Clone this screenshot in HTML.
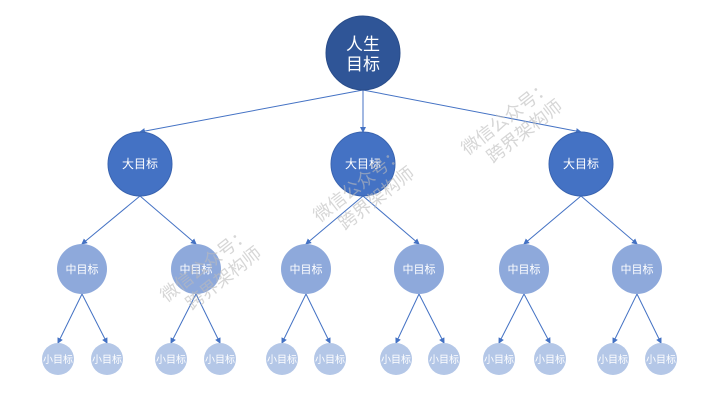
<!DOCTYPE html>
<html><head><meta charset="utf-8"><style>
html,body{margin:0;padding:0;background:#fff;width:720px;height:405px;overflow:hidden}
svg{display:block}
text{font-family:"Liberation Sans","Noto Sans CJK SC",sans-serif}
</style></head><body>
<svg width="720" height="405" viewBox="0 0 720 405" xmlns="http://www.w3.org/2000/svg">
<defs><marker id="a" markerWidth="6" markerHeight="6" refX="5" refY="3" orient="auto" markerUnits="userSpaceOnUse"><path d="M0,0 L6,3 L0,6 z" fill="#4472C4"/></marker></defs>
<g stroke="#4472C4" stroke-width="1" marker-end="url(#a)">
<line x1="363" y1="90" x2="140" y2="132"/>
<line x1="363" y1="90" x2="363" y2="132"/>
<line x1="363" y1="90" x2="581" y2="132"/>
<line x1="140" y1="196" x2="82" y2="244"/>
<line x1="140" y1="196" x2="196" y2="244"/>
<line x1="363" y1="196" x2="306" y2="244"/>
<line x1="363" y1="196" x2="419" y2="244"/>
<line x1="581" y1="196" x2="524" y2="244"/>
<line x1="581" y1="196" x2="637" y2="244"/>
<line x1="82" y1="294" x2="58" y2="343"/><line x1="82" y1="294" x2="107" y2="343"/>
<line x1="196" y1="294" x2="171" y2="343"/><line x1="196" y1="294" x2="220" y2="343"/>
<line x1="306" y1="294" x2="282" y2="343"/><line x1="306" y1="294" x2="330" y2="343"/>
<line x1="419" y1="294" x2="396" y2="343"/><line x1="419" y1="294" x2="444" y2="343"/>
<line x1="524" y1="294" x2="499" y2="343"/><line x1="524" y1="294" x2="550" y2="343"/>
<line x1="637" y1="294" x2="613" y2="343"/><line x1="637" y1="294" x2="661" y2="343"/>
</g>
<circle cx="363" cy="53" r="37" fill="#2F5597" stroke="#2a4d8a"/>
<text x="363" y="50" fill="#fff" font-size="17" text-anchor="middle">人生</text>
<text x="363" y="70" fill="#fff" font-size="17" text-anchor="middle">目标</text>
<g fill="#4472C4" stroke="#3a64b0">
<circle cx="140" cy="164" r="32"/><circle cx="363" cy="164" r="32"/><circle cx="581" cy="164" r="32"/></g>
<g fill="#fff" font-size="12" text-anchor="middle">
<text x="140" y="168">大目标</text><text x="363" y="168">大目标</text><text x="581" y="168">大目标</text></g>
<g fill="#8EA9DB">
<circle cx="82" cy="269" r="25"/><circle cx="196" cy="269" r="25"/><circle cx="306" cy="269" r="25"/><circle cx="419" cy="269" r="25"/><circle cx="524" cy="269" r="25"/><circle cx="637" cy="269" r="25"/></g>
<g fill="#fff" font-size="11" text-anchor="middle">
<text x="82" y="273">中目标</text><text x="196" y="273">中目标</text><text x="306" y="273">中目标</text><text x="419" y="273">中目标</text><text x="524" y="273">中目标</text><text x="637" y="273">中目标</text></g>
<g fill="#B4C7E7">
<circle cx="58" cy="359" r="16"/><circle cx="107" cy="359" r="16"/><circle cx="171" cy="359" r="16"/><circle cx="220" cy="359" r="16"/><circle cx="282" cy="359" r="16"/><circle cx="330" cy="359" r="16"/><circle cx="396" cy="359" r="16"/><circle cx="444" cy="359" r="16"/><circle cx="499" cy="359" r="16"/><circle cx="550" cy="359" r="16"/><circle cx="613" cy="359" r="16"/><circle cx="661" cy="359" r="16"/></g>
<g fill="#fff" font-size="10" text-anchor="middle">
<text x="58" y="363">小目标</text><text x="107" y="363">小目标</text><text x="171" y="363">小目标</text><text x="220" y="363">小目标</text><text x="282" y="363">小目标</text><text x="330" y="363">小目标</text><text x="396" y="363">小目标</text><text x="444" y="363">小目标</text><text x="499" y="363">小目标</text><text x="550" y="363">小目标</text><text x="613" y="363">小目标</text><text x="661" y="363">小目标</text></g>
<g fill="#bbb" fill-opacity="0.6" font-size="18">
<g transform="translate(202,275) rotate(-38)"><text x="-45" y="0">微信公众号：</text><text x="-30" y="22">跨界架构师</text></g>
<g transform="translate(355,195) rotate(-38)"><text x="-45" y="0">微信公众号：</text><text x="-30" y="22">跨界架构师</text></g>
<g transform="translate(503,128) rotate(-38)"><text x="-45" y="0">微信公众号：</text><text x="-30" y="22">跨界架构师</text></g>
</g>
</svg>
</body></html>
